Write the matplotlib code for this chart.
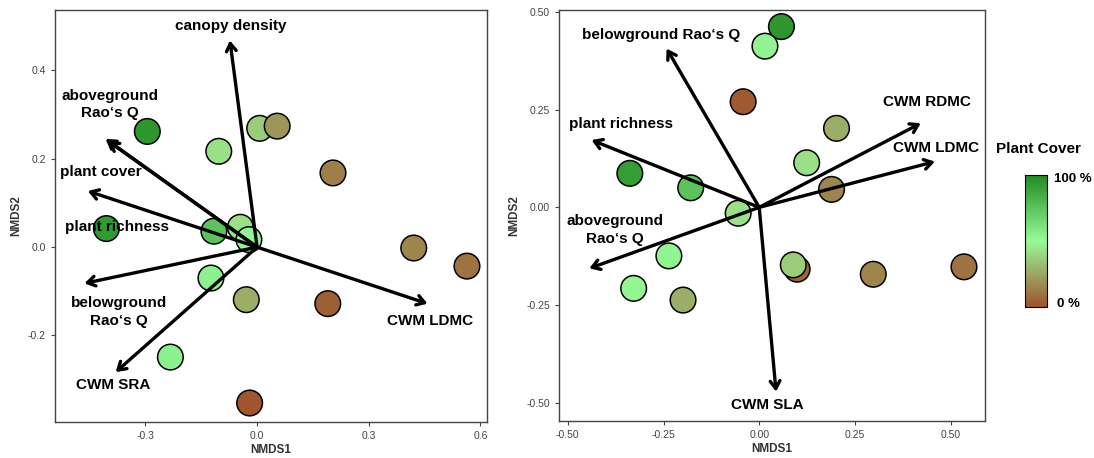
import matplotlib.pyplot as plt
import numpy as np
from matplotlib.colors import LinearSegmentedColormap

plt.rcParams['font.family'] = ['Liberation Sans', 'DejaVu Sans']

# plant cover colour ramp (0 % -> 100 %)
cmap = LinearSegmentedColormap.from_list('cover', ['#a0522d', '#98fb98', '#228b22'])

# ---- left panel (NMDS 1) ----
x1 = [-0.295, -0.103, 0.007, 0.054, 0.204, -0.405, -0.116, -0.045, -0.022,
      -0.124, -0.029, 0.190, 0.421, 0.564, -0.233, -0.020]
y1 = [0.262, 0.217, 0.269, 0.274, 0.168, 0.042, 0.036, 0.045, 0.017,
      -0.070, -0.119, -0.128, -0.002, -0.043, -0.249, -0.353]
cover1 = [0.95, 0.42, 0.36, 0.20, 0.13, 0.93, 0.75, 0.42, 0.52,
          0.55, 0.27, 0.04, 0.15, 0.10, 0.55, 0.01]

vec1_names = ['canopy density', 'aboveground\nRao\u2018s Q', 'plant cover', 'plant richness',
              'belowground\nRao\u2018s Q', 'CWM SRA', 'CWM LDMC']
vec1_x = [-0.073, -0.407, -0.455, -0.400, -0.464, -0.380, 0.458]
vec1_y = [0.468, 0.245, 0.127, 0.240, -0.082, -0.283, -0.128]
lab1_x = [-0.070, -0.396, -0.421, -0.376, -0.372, -0.388, 0.464]
lab1_y = [0.500, 0.323, 0.170, 0.045, -0.147, -0.313, -0.168]

# ---- right panel (NMDS 2) ----
x2 = [0.058, 0.015, -0.042, 0.202, 0.124, 0.189, -0.338, -0.179, -0.055,
      -0.236, -0.328, -0.199, 0.099, 0.089, 0.298, 0.535]
y2 = [0.462, 0.412, 0.270, 0.202, 0.114, 0.046, 0.087, 0.050, -0.015,
      -0.124, -0.207, -0.237, -0.158, -0.147, -0.171, -0.152]
cover2 = [0.95, 0.53, 0.02, 0.27, 0.42, 0.15, 0.92, 0.75, 0.42,
          0.53, 0.52, 0.27, 0.06, 0.36, 0.15, 0.10]

vec2_names = ['belowground Rao\u2018s Q', 'plant richness', 'aboveground\nRao\u2018s Q',
              'CWM SLA', 'CWM RDMC', 'CWM LDMC']
vec2_x = [-0.242, -0.438, -0.444, 0.044, 0.422, 0.459]
vec2_y = [0.406, 0.172, -0.156, -0.471, 0.215, 0.117]
lab2_x = [-0.257, -0.361, -0.377, 0.022, 0.437, 0.462]
lab2_y = [0.440, 0.212, -0.058, -0.505, 0.270, 0.151]

fig = plt.figure(figsize=(10.94, 4.58), dpi=100)
ax1 = fig.add_axes([0.0503, 0.0786, 0.3949, 0.8996])
ax2 = fig.add_axes([0.511, 0.0808, 0.3894, 0.897])


def draw_panel(ax, xs, ys, cov, vx, vy, names, lx, ly):
    ax.scatter(xs, ys, c=cov, cmap=cmap, vmin=0, vmax=1, s=340,
               edgecolors='black', linewidths=1.1, zorder=2)
    for ex, ey in zip(vx, vy):
        ax.annotate('', xy=(ex, ey), xytext=(0, 0),
                    arrowprops=dict(arrowstyle='->,head_length=0.55,head_width=0.35',
                                    lw=2.4, color='black', shrinkA=0, shrinkB=0),
                    zorder=3)
    for name, tx, ty in zip(names, lx, ly):
        ax.text(tx, ty, name, ha='center', va='center', fontsize=11,
                fontweight='bold', linespacing=1.35, zorder=4)
    for sp in ax.spines.values():
        sp.set_color('#444444')
        sp.set_linewidth(1.0)
    ax.tick_params(labelsize=7.5, colors='#444444', length=3, width=0.8)
    ax.set_xlabel('NMDS1', fontsize=8.5, fontweight='bold', color='#333333', labelpad=2)
    ax.set_ylabel('NMDS2', fontsize=8.5, fontweight='bold', color='#333333', labelpad=4)


draw_panel(ax1, x1, y1, cover1, vec1_x, vec1_y, vec1_names, lab1_x, lab1_y)
ax1.set_xlim(-0.543, 0.618)
ax1.set_ylim(-0.396, 0.537)
ax1.set_xticks([-0.3, 0.0, 0.3, 0.6])
ax1.set_xticklabels(['-0.3', '0.0', '0.3', '0.6'])
ax1.set_yticks([-0.2, 0.0, 0.2, 0.4])
ax1.set_yticklabels(['-0.2', '0.0', '0.2', '0.4'])

draw_panel(ax2, x2, y2, cover2, vec2_x, vec2_y, vec2_names, lab2_x, lab2_y)
ax2.set_xlim(-0.523, 0.590)
ax2.set_ylim(-0.546, 0.504)
ax2.set_xticks([-0.5, -0.25, 0.0, 0.25, 0.5])
ax2.set_xticklabels(['-0.50', '-0.25', '0.00', '0.25', '0.50'])
ax2.set_yticks([-0.5, -0.25, 0.0, 0.25, 0.5])
ax2.set_yticklabels(['-0.50', '-0.25', '0.00', '0.25', '0.50'])

# colour bar legend
cax = fig.add_axes([1025 / 1094, (458 - 307) / 458, 22 / 1094, 132 / 458])
grad = np.linspace(0, 1, 256).reshape(-1, 1)
cax.imshow(grad, cmap=cmap, aspect='auto', origin='lower', extent=[0, 1, 0, 1])
cax.set_xticks([])
cax.set_yticks([])
for sp in cax.spines.values():
    sp.set_linewidth(0.8)
fig.text(1038 / 1094, 1 - 149 / 458, 'Plant Cover', ha='center', va='center',
         fontsize=11, fontweight='bold')
fig.text(1054 / 1094, 1 - 179 / 458, '100 %', ha='left', va='center',
         fontsize=9.5, fontweight='bold')
fig.text(1057 / 1094, 1 - 304 / 458, '0 %', ha='left', va='center',
         fontsize=9.5, fontweight='bold')

fig.savefig('out.png', dpi=100)
